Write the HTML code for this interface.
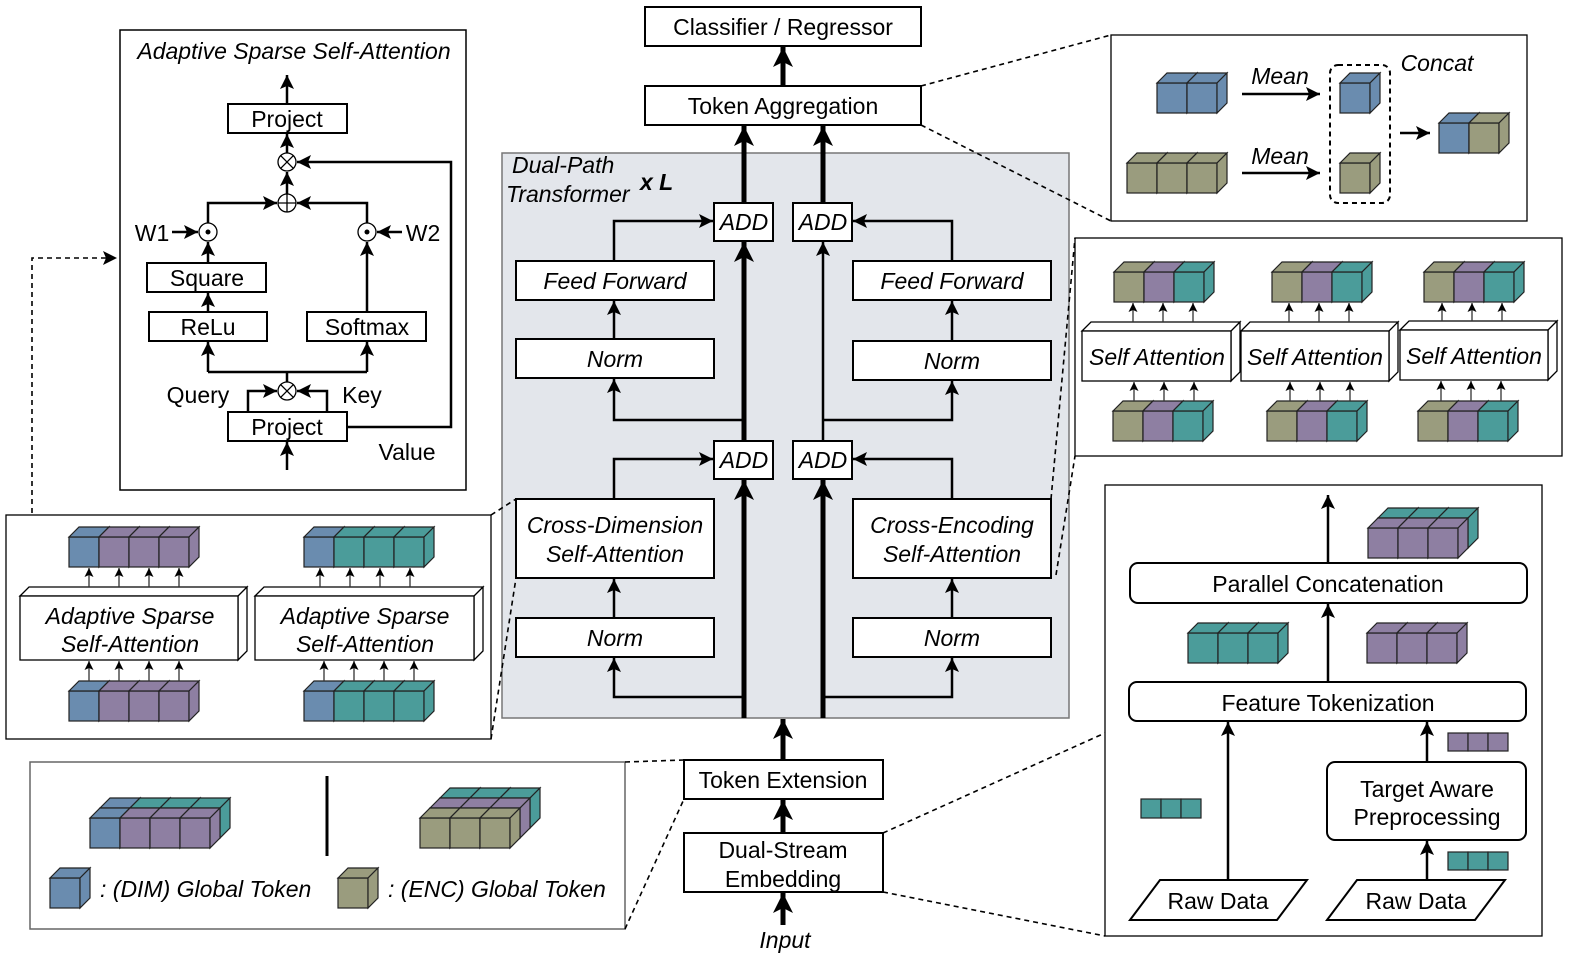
<!DOCTYPE html>
<html><head><meta charset="utf-8"><style>
html,body{margin:0;padding:0;background:#fff;overflow:hidden;width:1581px;height:970px}
svg{display:block}
text{font-family:"Liberation Sans","DejaVu Sans",sans-serif;font-size:23px;fill:#000}
.i{font-style:italic}
.b{fill:#fff;stroke:#000;stroke-width:2}
.l{fill:none;stroke:#000;stroke-width:2.5}
.t{fill:none;stroke:#000;stroke-width:5}
.d{fill:none;stroke:#000;stroke-width:1.6;stroke-dasharray:5,4}
</style></head><body>
<svg width="1581" height="970" viewBox="0 0 1581 970" xmlns="http://www.w3.org/2000/svg">
<defs>
<marker id="a" markerUnits="userSpaceOnUse" markerWidth="14" markerHeight="14" viewBox="0 0 14 14" refX="14" refY="7" orient="auto"><path d="M0,0 L14,7 L0,14 L3,7z" fill="#000"/></marker>
<marker id="T" markerUnits="userSpaceOnUse" markerWidth="20" markerHeight="20" viewBox="0 0 20 20" refX="20" refY="10" orient="auto"><path d="M0,0 L20,10 L0,20 L5,10z" fill="#000"/></marker>
<marker id="m" markerUnits="userSpaceOnUse" markerWidth="9" markerHeight="9" viewBox="0 0 9 9" refX="9" refY="4.5" orient="auto"><path d="M0,0 L9,4.5 L0,9 L2,4.5z" fill="#000"/></marker>
<g id="c" stroke="#222" stroke-width="1.2" fill="currentColor">
<rect x="0" y="10" width="30" height="30"/>
<path d="M0,10 L10,0 L40,0 L30,10z"/>
<path d="M30,10 L40,0 L40,30 L30,40z"/>
</g>
</defs>

<!-- central column -->
<rect class="b" x="645" y="7" width="276" height="39"/><text x="783" y="27" text-anchor="middle" dominant-baseline="central">Classifier / Regressor</text>
<rect class="b" x="645" y="86" width="276" height="39"/><text x="783" y="106" text-anchor="middle" dominant-baseline="central">Token Aggregation</text>
<line class="t" x1="783" y1="86" x2="783" y2="47" marker-end="url(#T)"/>

<rect x="502" y="153" width="567" height="565" fill="#e3e6eb" stroke="#777" stroke-width="1.5"/>
<text class="i" x="512" y="173">Dual-Path</text>
<text class="i" x="506" y="202">Transformer</text>
<text class="i" x="640" y="190" style="font-weight:bold">x L</text>

<rect class="b" x="714" y="203" width="59" height="38"/><text class="i" x="744" y="222" text-anchor="middle" dominant-baseline="central">ADD</text>
<rect class="b" x="793" y="203" width="59" height="38"/><text class="i" x="823" y="222" text-anchor="middle" dominant-baseline="central">ADD</text>
<rect class="b" x="714" y="441" width="59" height="38"/><text class="i" x="744" y="460" text-anchor="middle" dominant-baseline="central">ADD</text>
<rect class="b" x="793" y="441" width="59" height="38"/><text class="i" x="823" y="460" text-anchor="middle" dominant-baseline="central">ADD</text>

<rect class="b" x="516" y="261" width="198" height="39"/><text class="i" x="615" y="281" text-anchor="middle" dominant-baseline="central">Feed Forward</text>
<rect class="b" x="853" y="261" width="198" height="39"/><text class="i" x="952" y="281" text-anchor="middle" dominant-baseline="central">Feed Forward</text>
<rect class="b" x="516" y="339" width="198" height="39"/><text class="i" x="615" y="359" text-anchor="middle" dominant-baseline="central">Norm</text>
<rect class="b" x="853" y="341" width="198" height="39"/><text class="i" x="952" y="361" text-anchor="middle" dominant-baseline="central">Norm</text>
<rect class="b" x="516" y="499" width="198" height="79"/><text class="i" x="615" y="525" text-anchor="middle" dominant-baseline="central">Cross-Dimension</text><text class="i" x="615" y="554" text-anchor="middle" dominant-baseline="central">Self-Attention</text>
<rect class="b" x="853" y="499" width="198" height="79"/><text class="i" x="952" y="525" text-anchor="middle" dominant-baseline="central">Cross-Encoding</text><text class="i" x="952" y="554" text-anchor="middle" dominant-baseline="central">Self-Attention</text>
<rect class="b" x="516" y="618" width="198" height="39"/><text class="i" x="615" y="638" text-anchor="middle" dominant-baseline="central">Norm</text>
<rect class="b" x="853" y="618" width="198" height="39"/><text class="i" x="952" y="638" text-anchor="middle" dominant-baseline="central">Norm</text>

<line class="t" x1="744" y1="203" x2="744" y2="126" marker-end="url(#T)"/>
<line class="t" x1="823" y1="203" x2="823" y2="126" marker-end="url(#T)"/>
<line class="t" x1="744" y1="718" x2="744" y2="480" marker-end="url(#T)"/>
<line class="t" x1="823" y1="718" x2="823" y2="480" marker-end="url(#T)"/>
<line class="t" x1="744" y1="441" x2="744" y2="242" marker-end="url(#T)"/>
<line class="l" x1="823" y1="441" x2="823" y2="242" marker-end="url(#a)"/>
<path class="l" d="M744,697 H614 V658" marker-end="url(#a)"/>
<path class="l" d="M823,697 H952 V658" marker-end="url(#a)"/>
<line class="l" x1="614" y1="618" x2="614" y2="579" marker-end="url(#a)"/>
<line class="l" x1="952" y1="618" x2="952" y2="579" marker-end="url(#a)"/>
<path class="l" d="M614,499 V459 H713" marker-end="url(#a)"/>
<path class="l" d="M952,499 V459 H853" marker-end="url(#a)"/>
<path class="l" d="M744,420 H614 V379" marker-end="url(#a)"/>
<path class="l" d="M823,420 H952 V381" marker-end="url(#a)"/>
<line class="l" x1="614" y1="339" x2="614" y2="301" marker-end="url(#a)"/>
<line class="l" x1="952" y1="341" x2="952" y2="301" marker-end="url(#a)"/>
<path class="l" d="M614,261 V221 H713" marker-end="url(#a)"/>
<path class="l" d="M952,261 V221 H853" marker-end="url(#a)"/>

<rect class="b" x="684" y="760" width="199" height="39"/><text x="783" y="780" text-anchor="middle" dominant-baseline="central">Token Extension</text>
<rect class="b" x="684" y="833" width="199" height="59"/><text x="783" y="850" text-anchor="middle" dominant-baseline="central">Dual-Stream</text><text x="783" y="879" text-anchor="middle" dominant-baseline="central">Embedding</text>
<line class="t" x1="783" y1="760" x2="783" y2="719" marker-end="url(#T)"/>
<line class="t" x1="783" y1="833" x2="783" y2="800" marker-end="url(#T)"/>
<line class="t" x1="783" y1="925" x2="783" y2="893" marker-end="url(#T)"/>
<text class="i" x="785" y="940" text-anchor="middle" dominant-baseline="central">Input</text>

<!-- left top box -->
<rect x="120" y="30" width="346" height="460" fill="#fff" stroke="#000" stroke-width="1.5"/>
<text class="i" x="294" y="51" text-anchor="middle" dominant-baseline="central">Adaptive Sparse Self-Attention</text>
<rect class="b" x="228" y="104" width="119" height="29"/><text x="287" y="119" text-anchor="middle" dominant-baseline="central">Project</text>
<rect class="b" x="147" y="263" width="119" height="29"/><text x="207" y="278" text-anchor="middle" dominant-baseline="central">Square</text>
<rect class="b" x="149" y="312" width="118" height="29"/><text x="208" y="327" text-anchor="middle" dominant-baseline="central">ReLu</text>
<rect class="b" x="307" y="312" width="119" height="29"/><text x="367" y="327" text-anchor="middle" dominant-baseline="central">Softmax</text>
<rect class="b" x="228" y="412" width="119" height="29"/><text x="287" y="427" text-anchor="middle" dominant-baseline="central">Project</text>
<line class="l" x1="287" y1="104" x2="287" y2="75" marker-end="url(#a)"/>
<line class="l" x1="287" y1="153" x2="287" y2="134" marker-end="url(#a)"/>
<line class="l" x1="287" y1="194" x2="287" y2="172" marker-end="url(#a)"/>
<path class="l" d="M347,427 H451 V162 H297" marker-end="url(#a)"/>
<path class="l" d="M208,223 V203 H277" marker-end="url(#a)"/>
<path class="l" d="M367,223 V203 H297" marker-end="url(#a)"/>
<line class="l" x1="172" y1="232" x2="198" y2="232" marker-end="url(#a)"/>
<line class="l" x1="402" y1="232" x2="377" y2="232" marker-end="url(#a)"/>
<text x="152" y="233" text-anchor="middle" dominant-baseline="central">W1</text>
<text x="423" y="233" text-anchor="middle" dominant-baseline="central">W2</text>
<line class="l" x1="208" y1="263" x2="208" y2="242" marker-end="url(#a)"/>
<line class="l" x1="208" y1="312" x2="208" y2="293" marker-end="url(#a)"/>
<line class="l" x1="367" y1="312" x2="367" y2="242" marker-end="url(#a)"/>
<path class="l" d="M287,382 V372 M208,372 H367"/>
<line class="l" x1="208" y1="372" x2="208" y2="342" marker-end="url(#a)"/>
<line class="l" x1="367" y1="372" x2="367" y2="342" marker-end="url(#a)"/>
<path class="l" d="M248,412 V391 H277" marker-end="url(#a)"/>
<path class="l" d="M327,412 V391 H297" marker-end="url(#a)"/>
<line class="l" x1="287" y1="470" x2="287" y2="442" marker-end="url(#a)"/>
<g fill="#fff" stroke="#000" stroke-width="1.3">
<circle cx="287" cy="162" r="9"/><path d="M280.6,155.6 L293.4,168.4 M293.4,155.6 L280.6,168.4"/>
<circle cx="287" cy="391" r="9"/><path d="M280.6,384.6 L293.4,397.4 M293.4,384.6 L280.6,397.4"/>
<circle cx="287" cy="203" r="9"/><path d="M278,203 H296 M287,194 V212"/>
<circle cx="208" cy="232" r="9"/><circle cx="367" cy="232" r="9"/>
</g>
<circle cx="208" cy="232" r="2.5"/><circle cx="367" cy="232" r="2.5"/>
<text x="198" y="395" text-anchor="middle" dominant-baseline="central">Query</text>
<text x="362" y="395" text-anchor="middle" dominant-baseline="central">Key</text>
<text x="407" y="452" text-anchor="middle" dominant-baseline="central">Value</text>
<path class="d" d="M32,585 V258 H117" marker-end="url(#a)"/>

<!-- left middle box -->
<rect x="6" y="515" width="485" height="224" fill="#fff" stroke="#000" stroke-width="1.3"/>
<path class="d" d="M491,515 L516,499 M491,739 L516,578"/>
<g fill="#fff" stroke="#000" stroke-width="1.3">
<path d="M20,596 L29,587 L247,587 L238,596z M238,596 L247,587 L247,651 L238,660z"/><rect x="20" y="596" width="218" height="64"/>
<path d="M255,596 L264,587 L483,587 L474,596z M474,596 L483,587 L483,651 L474,660z"/><rect x="255" y="596" width="219" height="64"/>
</g>
<text class="i" x="130" y="616" text-anchor="middle" dominant-baseline="central">Adaptive Sparse</text>
<text class="i" x="130" y="644" text-anchor="middle" dominant-baseline="central">Self-Attention</text>
<text class="i" x="365" y="616" text-anchor="middle" dominant-baseline="central">Adaptive Sparse</text>
<text class="i" x="365" y="644" text-anchor="middle" dominant-baseline="central">Self-Attention</text>
<use href="#c" x="69" y="527" style="color:#6a8caf"/><use href="#c" x="99" y="527" style="color:#8e7fa2"/><use href="#c" x="129" y="527" style="color:#8e7fa2"/><use href="#c" x="159" y="527" style="color:#8e7fa2"/>
<use href="#c" x="69" y="681" style="color:#6a8caf"/><use href="#c" x="99" y="681" style="color:#8e7fa2"/><use href="#c" x="129" y="681" style="color:#8e7fa2"/><use href="#c" x="159" y="681" style="color:#8e7fa2"/>
<use href="#c" x="304" y="527" style="color:#6a8caf"/><use href="#c" x="334" y="527" style="color:#4b9c9a"/><use href="#c" x="364" y="527" style="color:#4b9c9a"/><use href="#c" x="394" y="527" style="color:#4b9c9a"/>
<use href="#c" x="304" y="681" style="color:#6a8caf"/><use href="#c" x="334" y="681" style="color:#4b9c9a"/><use href="#c" x="364" y="681" style="color:#4b9c9a"/><use href="#c" x="394" y="681" style="color:#4b9c9a"/>
<g stroke="#333" stroke-width="1.3">
<line x1="89" y1="587" x2="89" y2="568" marker-end="url(#m)"/><line x1="119" y1="587" x2="119" y2="568" marker-end="url(#m)"/><line x1="149" y1="587" x2="149" y2="568" marker-end="url(#m)"/><line x1="179" y1="587" x2="179" y2="568" marker-end="url(#m)"/>
<line x1="89" y1="681" x2="89" y2="661" marker-end="url(#m)"/><line x1="119" y1="681" x2="119" y2="661" marker-end="url(#m)"/><line x1="149" y1="681" x2="149" y2="661" marker-end="url(#m)"/><line x1="179" y1="681" x2="179" y2="661" marker-end="url(#m)"/>
<line x1="320" y1="587" x2="320" y2="568" marker-end="url(#m)"/><line x1="350" y1="587" x2="350" y2="568" marker-end="url(#m)"/><line x1="380" y1="587" x2="380" y2="568" marker-end="url(#m)"/><line x1="410" y1="587" x2="410" y2="568" marker-end="url(#m)"/>
<line x1="324" y1="681" x2="324" y2="661" marker-end="url(#m)"/><line x1="354" y1="681" x2="354" y2="661" marker-end="url(#m)"/><line x1="384" y1="681" x2="384" y2="661" marker-end="url(#m)"/><line x1="414" y1="681" x2="414" y2="661" marker-end="url(#m)"/>
</g>

<!-- legend box -->
<rect x="30" y="762" width="595" height="167" fill="#fff" stroke="#666" stroke-width="1.5"/>
<path class="d" d="M625,762 L684,760 M625,929 L684,799"/>
<use href="#c" x="100" y="798" style="color:#6a8caf"/><use href="#c" x="130" y="798" style="color:#4b9c9a"/><use href="#c" x="160" y="798" style="color:#4b9c9a"/><use href="#c" x="190" y="798" style="color:#4b9c9a"/>
<use href="#c" x="90" y="808" style="color:#6a8caf"/><use href="#c" x="120" y="808" style="color:#8e7fa2"/><use href="#c" x="150" y="808" style="color:#8e7fa2"/><use href="#c" x="180" y="808" style="color:#8e7fa2"/>
<line x1="327" y1="776" x2="327" y2="856" stroke="#000" stroke-width="3"/>
<use href="#c" x="440" y="788" style="color:#4b9c9a"/><use href="#c" x="470" y="788" style="color:#4b9c9a"/><use href="#c" x="500" y="788" style="color:#4b9c9a"/>
<use href="#c" x="430" y="798" style="color:#8e7fa2"/><use href="#c" x="460" y="798" style="color:#8e7fa2"/><use href="#c" x="490" y="798" style="color:#8e7fa2"/>
<use href="#c" x="420" y="808" style="color:#9a9c7e"/><use href="#c" x="450" y="808" style="color:#9a9c7e"/><use href="#c" x="480" y="808" style="color:#9a9c7e"/>
<use href="#c" x="50" y="868" style="color:#6a8caf"/>
<use href="#c" x="338" y="868" style="color:#9a9c7e"/>
<text class="i" x="100" y="889" dominant-baseline="central">: (DIM) Global Token</text>
<text class="i" x="388" y="889" dominant-baseline="central">: (ENC) Global Token</text>

<!-- top right box -->
<rect x="1111" y="35" width="416" height="186" fill="#fff" stroke="#000" stroke-width="1.3"/>
<path class="d" d="M921,86 L1111,35 M921,125 L1111,221"/>
<use href="#c" x="1157" y="73" style="color:#6a8caf"/><use href="#c" x="1187" y="73" style="color:#6a8caf"/>
<use href="#c" x="1127" y="153" style="color:#9a9c7e"/><use href="#c" x="1157" y="153" style="color:#9a9c7e"/><use href="#c" x="1187" y="153" style="color:#9a9c7e"/>
<text class="i" x="1280" y="76" text-anchor="middle" dominant-baseline="central">Mean</text>
<text class="i" x="1280" y="156" text-anchor="middle" dominant-baseline="central">Mean</text>
<line class="l" x1="1242" y1="94" x2="1320" y2="94" stroke-width="2" marker-end="url(#a)"/>
<line class="l" x1="1242" y1="173" x2="1320" y2="173" stroke-width="2" marker-end="url(#a)"/>
<rect x="1330" y="65" width="60" height="138" rx="8" fill="none" stroke="#000" stroke-width="2" stroke-dasharray="5,4"/>
<use href="#c" x="1340" y="73" style="color:#6a8caf"/>
<use href="#c" x="1340" y="153" style="color:#9a9c7e"/>
<text class="i" x="1437" y="63" text-anchor="middle" dominant-baseline="central">Concat</text>
<line class="l" x1="1400" y1="133" x2="1430" y2="133" stroke-width="2" marker-end="url(#a)"/>
<use href="#c" x="1439" y="113" style="color:#6a8caf"/><use href="#c" x="1469" y="113" style="color:#9a9c7e"/>

<!-- right middle box -->
<rect x="1075" y="238" width="487" height="218" fill="#fff" stroke="#000" stroke-width="1.3"/>
<path class="d" d="M1051,499 L1075,238 M1056,575 L1075,456"/>
<g fill="#fff" stroke="#000" stroke-width="1.3">
<path d="M1082,331 L1091,322 L1240,322 L1231,331z M1231,331 L1240,322 L1240,372 L1231,381z"/><rect x="1082" y="331" width="149" height="50"/>
<path d="M1241,331 L1250,322 L1398,322 L1389,331z M1389,331 L1398,322 L1398,372 L1389,381z"/><rect x="1241" y="331" width="148" height="50"/>
<path d="M1400,330 L1409,321 L1557,321 L1548,330z M1548,330 L1557,321 L1557,371 L1548,380z"/><rect x="1400" y="330" width="148" height="50"/>
</g>
<text class="i" x="1157" y="357" text-anchor="middle" dominant-baseline="central">Self Attention</text>
<text class="i" x="1315" y="357" text-anchor="middle" dominant-baseline="central">Self Attention</text>
<text class="i" x="1474" y="356" text-anchor="middle" dominant-baseline="central">Self Attention</text>
<use href="#c" x="1114" y="262" style="color:#9a9c7e"/><use href="#c" x="1144" y="262" style="color:#8e7fa2"/><use href="#c" x="1174" y="262" style="color:#4b9c9a"/>
<use href="#c" x="1272" y="262" style="color:#9a9c7e"/><use href="#c" x="1302" y="262" style="color:#8e7fa2"/><use href="#c" x="1332" y="262" style="color:#4b9c9a"/>
<use href="#c" x="1424" y="262" style="color:#9a9c7e"/><use href="#c" x="1454" y="262" style="color:#8e7fa2"/><use href="#c" x="1484" y="262" style="color:#4b9c9a"/>
<use href="#c" x="1113" y="401" style="color:#9a9c7e"/><use href="#c" x="1143" y="401" style="color:#8e7fa2"/><use href="#c" x="1173" y="401" style="color:#4b9c9a"/>
<use href="#c" x="1267" y="401" style="color:#9a9c7e"/><use href="#c" x="1297" y="401" style="color:#8e7fa2"/><use href="#c" x="1327" y="401" style="color:#4b9c9a"/>
<use href="#c" x="1418" y="401" style="color:#9a9c7e"/><use href="#c" x="1448" y="401" style="color:#8e7fa2"/><use href="#c" x="1478" y="401" style="color:#4b9c9a"/>
<g stroke="#333" stroke-width="1.3">
<line x1="1133" y1="322" x2="1133" y2="303" marker-end="url(#m)"/><line x1="1163" y1="322" x2="1163" y2="303" marker-end="url(#m)"/><line x1="1193" y1="322" x2="1193" y2="303" marker-end="url(#m)"/>
<line x1="1289" y1="322" x2="1289" y2="303" marker-end="url(#m)"/><line x1="1319" y1="322" x2="1319" y2="303" marker-end="url(#m)"/><line x1="1349" y1="322" x2="1349" y2="303" marker-end="url(#m)"/>
<line x1="1442" y1="321" x2="1442" y2="303" marker-end="url(#m)"/><line x1="1472" y1="321" x2="1472" y2="303" marker-end="url(#m)"/><line x1="1502" y1="321" x2="1502" y2="303" marker-end="url(#m)"/>
<line x1="1134" y1="401" x2="1134" y2="382" marker-end="url(#m)"/><line x1="1164" y1="401" x2="1164" y2="382" marker-end="url(#m)"/><line x1="1194" y1="401" x2="1194" y2="382" marker-end="url(#m)"/>
<line x1="1290" y1="401" x2="1290" y2="382" marker-end="url(#m)"/><line x1="1320" y1="401" x2="1320" y2="382" marker-end="url(#m)"/><line x1="1350" y1="401" x2="1350" y2="382" marker-end="url(#m)"/>
<line x1="1441" y1="401" x2="1441" y2="381" marker-end="url(#m)"/><line x1="1471" y1="401" x2="1471" y2="381" marker-end="url(#m)"/><line x1="1501" y1="401" x2="1501" y2="381" marker-end="url(#m)"/>
</g>

<!-- right bottom box -->
<rect x="1105" y="485" width="437" height="451" fill="#fff" stroke="#000" stroke-width="1.3"/>
<path class="d" d="M883,833 L1105,733 M883,892 L1105,936"/>
<use href="#c" x="1378" y="508" style="color:#4b9c9a"/><use href="#c" x="1408" y="508" style="color:#4b9c9a"/><use href="#c" x="1438" y="508" style="color:#4b9c9a"/>
<use href="#c" x="1368" y="518" style="color:#8e7fa2"/><use href="#c" x="1398" y="518" style="color:#8e7fa2"/><use href="#c" x="1428" y="518" style="color:#8e7fa2"/>
<rect class="b" x="1130" y="563" width="397" height="40" rx="8"/><text x="1328" y="584" text-anchor="middle" dominant-baseline="central">Parallel Concatenation</text>
<use href="#c" x="1188" y="623" style="color:#4b9c9a"/><use href="#c" x="1218" y="623" style="color:#4b9c9a"/><use href="#c" x="1248" y="623" style="color:#4b9c9a"/>
<use href="#c" x="1367" y="623" style="color:#8e7fa2"/><use href="#c" x="1397" y="623" style="color:#8e7fa2"/><use href="#c" x="1427" y="623" style="color:#8e7fa2"/>
<rect class="b" x="1129" y="682" width="397" height="39" rx="8"/><text x="1328" y="703" text-anchor="middle" dominant-baseline="central">Feature Tokenization</text>
<rect class="b" x="1327" y="762" width="199" height="78" rx="8"/><text x="1427" y="789" text-anchor="middle" dominant-baseline="central">Target Aware</text><text x="1427" y="817" text-anchor="middle" dominant-baseline="central">Preprocessing</text>
<path class="b" d="M1130,920 L1160,880 L1307,880 L1277,920z"/><text x="1218" y="901" text-anchor="middle" dominant-baseline="central">Raw Data</text>
<path class="b" d="M1327,920 L1357,880 L1505,880 L1475,920z"/><text x="1416" y="901" text-anchor="middle" dominant-baseline="central">Raw Data</text>
<line class="l" x1="1228" y1="880" x2="1228" y2="722" marker-end="url(#a)"/>
<line class="l" x1="1427" y1="880" x2="1427" y2="841" marker-end="url(#a)"/>
<line class="l" x1="1427" y1="762" x2="1427" y2="722" marker-end="url(#a)"/>
<line class="l" x1="1328" y1="682" x2="1328" y2="604" marker-end="url(#a)"/>
<line class="l" x1="1328" y1="563" x2="1328" y2="495" marker-end="url(#a)"/>
<g stroke="#222" stroke-width="1.2">
<rect x="1448" y="733" width="20" height="18" fill="#8e7fa2"/><rect x="1468" y="733" width="20" height="18" fill="#8e7fa2"/><rect x="1488" y="733" width="20" height="18" fill="#8e7fa2"/>
<rect x="1141" y="799" width="20" height="19" fill="#4b9c9a"/><rect x="1161" y="799" width="20" height="19" fill="#4b9c9a"/><rect x="1181" y="799" width="20" height="19" fill="#4b9c9a"/>
<rect x="1448" y="852" width="20" height="18" fill="#4b9c9a"/><rect x="1468" y="852" width="20" height="18" fill="#4b9c9a"/><rect x="1488" y="852" width="20" height="18" fill="#4b9c9a"/>
</g>
</svg>
</body></html>
